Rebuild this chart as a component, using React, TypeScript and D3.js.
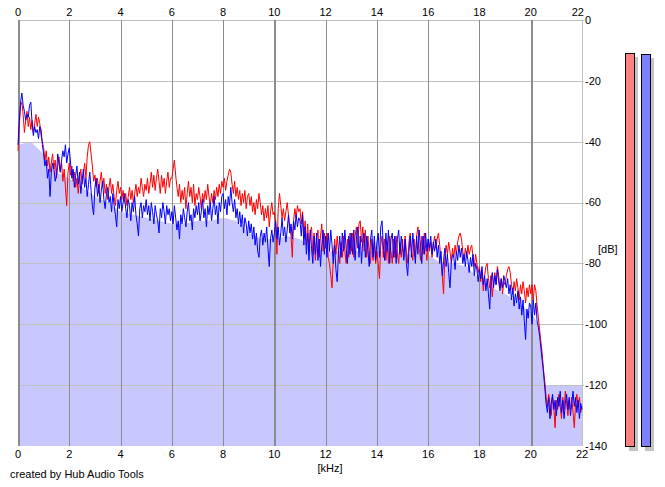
import React, { useEffect, useRef } from 'react';
import * as d3 from 'd3';

// spectrum bins, one value every 0.05 kHz (20 per row = 1 kHz)
const BIN_KHZ = 0.05;

const redDb: number[] = [
  -43, -35, -28, -27, -31, -37, -33, -30, -35, -32, -36, -33, -37, -34, -31, -35, -32, -34, -38, -40,
  -42, -46, -43, -48, -45, -50, -47, -44, -49, -46, -52, -48, -45, -50, -47, -53, -49, -55, -61, -50,
  -47, -51, -48, -53, -50, -55, -52, -57, -52, -49, -54, -51, -47, -52, -45, -41, -40, -44, -48, -53,
  -51, -55, -52, -57, -53, -50, -55, -52, -57, -54, -59, -55, -52, -57, -54, -58, -61, -56, -53, -57,
  -55, -59, -56, -60, -57, -61, -58, -55, -59, -56, -60, -57, -54, -58, -55, -57, -52, -55, -58, -54,
  -56, -52, -57, -54, -50, -55, -51, -56, -52, -49, -53, -57, -51, -55, -52, -57, -53, -50, -55, -52,
  -52, -49, -46, -51, -55, -58, -54, -60, -56, -59, -55, -62, -57, -53, -58, -55, -60, -54, -61, -57,
  -59, -55, -58, -62, -57, -60, -56, -59, -54, -58, -61, -57, -60, -56, -59, -55, -58, -54, -57, -53,
  -55, -52, -56, -53, -51, -49, -50, -54, -57, -53, -58, -55, -59, -56, -61, -57, -60, -56, -62, -58,
  -57, -61, -58, -63, -60, -64, -59, -62, -57, -60, -64, -61, -66, -62, -65, -61, -68, -63, -60, -64,
  -63, -67, -77, -62, -57, -61, -65, -62, -66, -63, -60, -64, -68, -71, -78, -66, -62, -65, -61, -63,
  -62, -67, -63, -71, -66, -74, -67, -76, -70, -68, -77, -70, -79, -72, -69, -78, -71, -67, -76, -70,
  -75, -70, -78, -80, -84, -88, -78, -72, -77, -71, -76, -80, -73, -78, -71, -76, -80, -72, -78, -70,
  -76, -70, -78, -71, -68, -75, -67, -66, -73, -68, -76, -69, -78, -71, -77, -80, -72, -79, -73, -80,
  -76, -80, -85, -74, -71, -78, -72, -79, -73, -80, -71, -76, -80, -72, -78, -71, -77, -80, -73, -78,
  -72, -78, -71, -76, -80, -73, -70, -76, -79, -72, -78, -71, -68, -75, -79, -71, -77, -70, -75, -79,
  -72, -76, -73, -78, -74, -71, -75, -72, -70, -74, -79, -84, -90, -78, -74, -77, -73, -76, -80, -75,
  -78, -74, -77, -73, -71, -70, -72, -76, -79, -75, -78, -74, -77, -75, -74, -78, -81, -77, -80, -83,
  -81, -86, -83, -89, -84, -81, -80, -85, -88, -84, -91, -86, -83, -87, -81, -84, -88, -85, -90, -86,
  -87, -84, -82, -81, -83, -87, -90, -86, -89, -85, -88, -92, -87, -90, -86, -89, -93, -88, -91, -87,
  -90, -87, -92, -87, -89, -94, -98, -102, -106, -110, -115, -119, -124, -127, -123, -126, -130, -124, -127, -134,
  -125, -128, -123, -127, -131, -124, -128, -122, -126, -130, -125, -128, -124, -129, -134, -126, -123, -127, -124, -129,
  -127,
];

const blueDb: number[] = [
  -41, -33, -27, -24, -28, -30, -33, -31, -32, -28, -27, -34, -38, -35, -37, -36, -39, -35, -36, -41,
  -44, -48, -46, -52, -49, -58, -50, -47, -49, -53, -51, -44, -47, -50, -46, -43, -45, -41, -47, -44,
  -42, -47, -52, -49, -55, -51, -48, -54, -50, -57, -53, -49, -55, -52, -58, -54, -50, -56, -61, -64,
  -55, -52, -58, -54, -60, -56, -53, -59, -62, -57, -55, -60, -58, -63, -57, -61, -64, -68, -59, -62,
  -58, -63, -60, -57, -62, -65, -59, -61, -66, -60, -63, -58, -64, -67, -71, -62, -60, -65, -61, -63,
  -59, -64, -61, -66, -60, -63, -67, -61, -64, -66, -70, -62, -65, -60, -63, -67, -61, -64, -62, -66,
  -63, -67, -61, -65, -69, -66, -72, -64, -67, -62, -65, -68, -63, -60, -66, -64, -69, -62, -65, -61,
  -64, -60, -66, -63, -59, -65, -62, -68, -61, -64, -60, -66, -62, -58, -64, -61, -67, -60, -63, -58,
  -57, -62, -59, -64, -58, -61, -55, -60, -63, -59, -65, -62, -67, -63, -68, -64, -70, -65, -67, -71,
  -66, -70, -67, -72, -68, -74, -70, -76, -78, -71, -69, -74, -70, -73, -68, -75, -81, -72, -69, -73,
  -70, -66, -72, -68, -74, -70, -65, -71, -68, -73, -69, -64, -70, -67, -72, -66, -69, -64, -68, -65,
  -66, -71, -64, -74, -68, -77, -70, -79, -69, -75, -80, -71, -77, -70, -79, -72, -81, -74, -69, -77,
  -71, -78, -70, -76, -69, -74, -80, -74, -82, -86, -77, -71, -78, -70, -76, -69, -75, -80, -71, -77,
  -70, -77, -69, -79, -72, -68, -78, -71, -80, -72, -70, -78, -71, -76, -81, -72, -69, -78, -71, -79,
  -73, -70, -78, -68, -66, -74, -79, -70, -76, -69, -80, -72, -70, -78, -71, -80, -72, -69, -77, -71,
  -75, -79, -72, -80, -84, -76, -71, -78, -70, -75, -80, -71, -77, -69, -74, -80, -71, -77, -70, -76,
  -72, -75, -71, -77, -73, -76, -72, -78, -74, -80, -76, -84, -79, -75, -81, -77, -83, -88, -80, -77,
  -78, -82, -76, -79, -74, -78, -75, -80, -77, -81, -76, -79, -83, -78, -81, -77, -84, -80, -82, -86,
  -82, -85, -81, -87, -84, -89, -85, -90, -95, -86, -83, -88, -84, -87, -82, -86, -89, -85, -88, -84,
  -86, -88, -85, -90, -87, -92, -88, -94, -90, -93, -89, -95, -91, -97, -92, -99, -105, -95, -98, -93,
  -94, -100, -92, -97, -93, -99, -101, -104, -108, -112, -116, -121, -126, -129, -124, -131, -126, -123, -128, -125,
  -130, -124, -127, -122, -129, -125, -131, -126, -123, -128, -124, -130, -126, -122, -127, -124, -129, -125, -131, -126,
  -128,
];

// smoothed average level drawn as the shaded area
const fillKhz = [
  0, 0.5, 1, 1.5, 2, 2.5, 3, 3.5, 4, 4.5, 5, 5.5, 6, 6.5, 7, 7.5, 8, 8.5, 9, 9.5, 10,
  10.5, 11, 11.5, 12, 12.5, 13, 13.5, 14, 14.5, 15, 15.5, 16, 16.5, 17, 17.5, 18, 18.5, 19, 19.5, 20,
  20.3, 20.45, 20.55, 21, 21.5, 22,
];
const fillDb = [
  -41, -40, -44, -50, -52, -55, -58, -60, -63, -64, -65, -66, -67, -67, -66, -66, -65, -66, -70, -72, -72,
  -71, -72, -75, -76, -76, -76, -76, -76, -76, -77, -77, -77, -80, -80, -81, -85, -88, -90, -93, -96,
  -100, -108, -120, -120, -120, -120,
];

const freqTicks = [0, 2, 4, 6, 8, 10, 12, 14, 16, 18, 20, 22];
const majorFreqs = [0, 10, 20];
const dbTicks = [0, -20, -40, -60, -80, -100, -120, -140];
const meterLevels = [-11, -11.3];
const meterColors = ['#ff8080', '#8080ff'];

const W = 665;
const H = 487;

const SpectrumChart: React.FC = () => {
  const svgRef = useRef<SVGSVGElement | null>(null);

  useEffect(() => {
    document.body.style.margin = '0';

    const svg = d3.select(svgRef.current);
    svg.selectAll('*').remove();
    svg
      .attr('width', W)
      .attr('height', H)
      .style('display', 'block')
      .style('font', '11px "Liberation Sans", Arial, sans-serif');

    const x = d3.scaleLinear().domain([0, 22]).range([18, 582]);
    const y = d3.scaleLinear().domain([0, -140]).range([20, 446]);
    const freqs = blueDb.map((_, i) => i * BIN_KHZ);

    svg.append('rect').attr('width', W).attr('height', H).attr('fill', '#fff');

    // shaded average area
    const area = d3
      .area<number>()
      .x((_, i) => x(fillKhz[i]))
      .y0(y(-140))
      .y1((d) => y(d));
    svg.append('path').datum(fillDb).attr('d', area).attr('fill', '#c8c8ff');

    // grid
    const grid = svg.append('g').attr('shape-rendering', 'crispEdges');
    grid
      .selectAll('line.h')
      .data(dbTicks.filter((d) => d > -140))
      .join('line')
      .attr('class', 'h')
      .attr('x1', x(0))
      .attr('x2', x(22) + 2)
      .attr('y1', (d) => Math.round(y(d)) + 0.5)
      .attr('y2', (d) => Math.round(y(d)) + 0.5)
      .attr('stroke', '#c0c0c0');

    grid
      .selectAll('line.v')
      .data(freqTicks)
      .join('line')
      .attr('class', 'v')
      .attr('x1', (d) => Math.round(x(d)) + 0.5)
      .attr('x2', (d) => Math.round(x(d)) + 0.5)
      .attr('y1', y(0))
      .attr('y2', y(-140))
      .attr('stroke', (d) => (d === 22 ? '#c0c0c0' : '#8c8c8c'))
      .attr('stroke-width', (d) => (majorFreqs.includes(d) ? 2 : 1));

    // spectrum lines
    const line = d3
      .line<number>()
      .x((_, i) => x(freqs[i]))
      .y((d) => y(d));
    svg.append('path').datum(redDb).attr('d', line).attr('fill', 'none').attr('stroke', '#ff0000').attr('stroke-width', 1);
    svg.append('path').datum(blueDb).attr('d', line).attr('fill', 'none').attr('stroke', '#0000ff').attr('stroke-width', 1);

    // axis labels
    const labels = svg.append('g').attr('fill', '#000');
    labels
      .selectAll('text.top')
      .data(freqTicks)
      .join('text')
      .attr('class', 'top')
      .attr('x', (d) => (d === 22 ? x(d) + 2 : x(d)))
      .attr('y', 16)
      .attr('text-anchor', (d) => (d === 22 ? 'end' : 'middle'))
      .text((d) => d);
    labels
      .selectAll('text.bottom')
      .data(freqTicks)
      .join('text')
      .attr('class', 'bottom')
      .attr('x', (d) => x(d))
      .attr('y', 458)
      .attr('text-anchor', 'middle')
      .text((d) => d);
    labels
      .selectAll('text.right')
      .data(dbTicks)
      .join('text')
      .attr('class', 'right')
      .attr('x', 585)
      .attr('y', (d) => y(d))
      .attr('dy', '0.35em')
      .text((d) => d);

    labels.append('text').attr('x', 598).attr('y', 249).attr('dy', '0.35em').text('[dB]');
    labels.append('text').attr('x', 330).attr('y', 472).attr('text-anchor', 'middle').text('[kHz]');
    labels.append('text').attr('x', 10).attr('y', 478).text('created by Hub Audio Tools');

    // level meters
    const meters = svg.append('g').attr('shape-rendering', 'crispEdges');
    meterLevels.forEach((lvl, i) => {
      const left = 625 + i * 16;
      meters
        .append('rect')
        .attr('x', left + 4)
        .attr('y', y(lvl) + 4)
        .attr('width', 9)
        .attr('height', y(-140) - y(lvl) + 1)
        .attr('fill', '#c4c4c4');
      meters
        .append('rect')
        .attr('x', left + 0.5)
        .attr('y', Math.round(y(lvl)) + 0.5)
        .attr('width', 9)
        .attr('height', y(-140) - Math.round(y(lvl)))
        .attr('fill', meterColors[i])
        .attr('stroke', '#000');
    });
  }, []);

  return <svg ref={svgRef} />;
};

export default function App() {
  return <SpectrumChart />;
}
